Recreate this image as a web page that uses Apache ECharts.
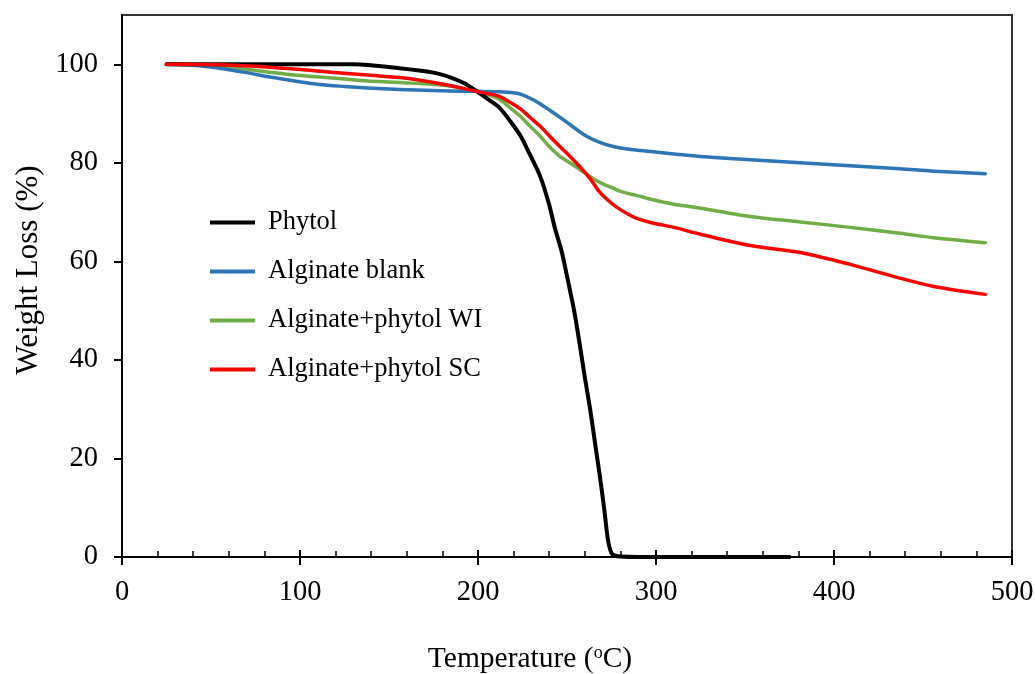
<!DOCTYPE html>
<html>
<head>
<meta charset="utf-8">
<script src="https://cdn.jsdelivr.net/npm/echarts@6/dist/echarts.min.js"></script>
<style>html,body{margin:0;padding:0;background:#fff}#c{width:1035px;height:674px}</style>
</head>
<body>
<div id="c"></div>
<script>
var seriesNames = ['Phytol', 'Alginate blank', 'Alginate+phytol WI', 'Alginate+phytol SC'];
var yTicks = [0, 20, 40, 60, 80, 100];

var phytolT = [25, 50, 100, 130, 156, 175, 184, 192, 199, 206, 212, 218, 224, 229, 235, 240, 243, 247, 250, 254, 257, 260, 263, 266, 268.5, 271, 273, 275, 277, 280, 290, 320, 375];
var phytolW = [100, 100, 100, 100, 99.2, 98.3, 97.4, 96.2, 94.6, 92.8, 91.2, 88.5, 85.4, 81.8, 77.2, 71.5, 67, 62, 57, 50, 43.5, 36.5, 30, 22.5, 16.3, 9.5, 3.5, 0.8, 0.3, 0.1, 0, 0, 0];

var blankT = [25, 40, 55, 70, 83, 97, 111, 125, 138, 156, 184, 200, 212, 220, 225, 231, 236.5, 243, 250, 256, 261, 268, 276, 286, 297, 310, 325, 353, 381, 409, 437, 456, 485];
var blankW = [100, 99.8, 99.2, 98.3, 97.4, 96.6, 95.9, 95.5, 95.2, 94.9, 94.6, 94.5, 94.4, 94.2, 93.8, 92.8, 91.6, 90, 88.2, 86.6, 85.4, 84.2, 83.3, 82.7, 82.3, 81.8, 81.3, 80.6, 80, 79.4, 78.8, 78.3, 77.8];

var wiT = [25, 40, 55, 70, 83, 97, 111, 125, 138, 156, 184, 199, 206, 212, 218, 224, 229, 235, 240, 246, 252, 257, 263, 268.5, 275, 280, 290, 297, 310, 325, 353, 381, 409, 437, 456, 485];
var wiW = [100, 99.9, 99.6, 99, 98.4, 97.8, 97.4, 97, 96.6, 96.3, 95.6, 94.5, 93.8, 92.9, 91.2, 89.4, 87.5, 85.4, 83.3, 81.3, 79.9, 78.7, 77.2, 76, 75, 74.2, 73.3, 72.6, 71.6, 70.8, 69.1, 68, 66.9, 65.7, 64.8, 63.8];

var scT = [25, 55, 83, 111, 138, 156, 170, 184, 199, 206, 212, 218, 224, 229, 235, 240, 246, 252, 257, 263, 268.5, 275, 280, 288, 297, 310, 325, 353, 381, 409, 437, 456, 485];
var scW = [100, 99.9, 99.4, 98.6, 97.8, 97.3, 96.6, 95.7, 94.5, 94, 93.5, 92.3, 90.9, 89.3, 87.4, 85.5, 83.3, 81.2, 79.3, 76.8, 74, 71.8, 70.5, 68.9, 67.9, 66.9, 65.5, 63.2, 61.8, 59.4, 56.6, 54.9, 53.3];

function pairs(t, w) { return t.map(function (v, i) { return [v, w[i]]; }); }

var colors = ['#000000', '#2E75B6', '#70AD47', '#FF0000'];
var datasets = [pairs(phytolT, phytolW), pairs(blankT, blankW), pairs(wiT, wiW), pairs(scT, scW)];
var FONT = 'Liberation Serif';

var chart = echarts.init(document.getElementById('c'), null, { renderer: 'canvas' });
chart.setOption({
  animation: false,
  backgroundColor: '#ffffff',
  textStyle: { fontFamily: FONT, color: '#000' },
  grid: { left: 122, right: 23, top: 15, bottom: 117, outerBoundsMode: 'none', containLabel: false,
    show: true, borderColor: '#333', borderWidth: 2, backgroundColor: 'transparent' },
  legend: {
    orient: 'vertical', left: 210, top: 209, padding: 0,
    icon: 'rect', itemWidth: 45, itemHeight: 4, itemGap: 22,
    data: seriesNames,
    textStyle: { fontFamily: FONT, fontSize: 26.5, color: '#000', lineHeight: 26, padding: [0, 0, 0, 8] }
  },
  xAxis: [{
    type: 'value', min: 0, max: 500, interval: 100, position: 'bottom',
    name: '{n|Temperature (}{s|o}{n|C)}', nameLocation: 'middle', nameGap: 87,
    nameTextStyle: { padding: [0, 74, 0, 0], rich: {
      n: { fontFamily: FONT, fontSize: 29.5, color: '#000' },
      s: { fontFamily: FONT, fontSize: 18, color: '#000', verticalAlign: 'top', padding: [0, 0, 10, 0] } } },
    axisLine: { show: true, lineStyle: { color: '#000', width: 2 } },
    axisTick: { show: true, inside: false, length: 8, lineStyle: { color: '#000', width: 2 } },
    axisLabel: { fontFamily: FONT, fontSize: 28.5, color: '#000', margin: 21 },
    splitLine: { show: false }
  }, {
    type: 'value', min: 0, max: 500, interval: 100, position: 'bottom',
    axisLine: { show: false },
    axisTick: { show: true, inside: true, length: 7, lineStyle: { color: '#000', width: 2 } },
    minorTick: { show: true, splitNumber: 5, length: 6, lineStyle: { color: '#000', width: 1.5 } },
    axisLabel: { show: false },
    splitLine: { show: false }
  }],
  yAxis: {
    type: 'value', min: 0, max: 110, interval: 20,
    name: 'Weight Loss (%)', nameLocation: 'middle', nameGap: 75, nameRotate: 90,
    nameTextStyle: { fontFamily: FONT, fontSize: 31, color: '#000', padding: [0, 0, 0, 32] },
    axisLine: { show: true, lineStyle: { color: '#000', width: 2 } },
    axisTick: { show: true, length: 8, customValues: yTicks, lineStyle: { color: '#000', width: 2 } },
    axisLabel: { fontFamily: FONT, fontSize: 28.5, color: '#000', margin: 24, customValues: yTicks },
    splitLine: { show: false }
  },
  series: datasets.map(function (d, i) {
    return {
      name: seriesNames[i], type: 'line', xAxisIndex: 0, data: d,
      showSymbol: false, symbol: 'none', smooth: 0.3,
      lineStyle: { color: colors[i], width: i === 0 ? 4 : 3.5, cap: 'round', join: 'round' },
      itemStyle: { color: colors[i] },
      z: 10 - i + (i === 3 ? 4 : 0)
    };
  })
});
</script>
</body>
</html>
